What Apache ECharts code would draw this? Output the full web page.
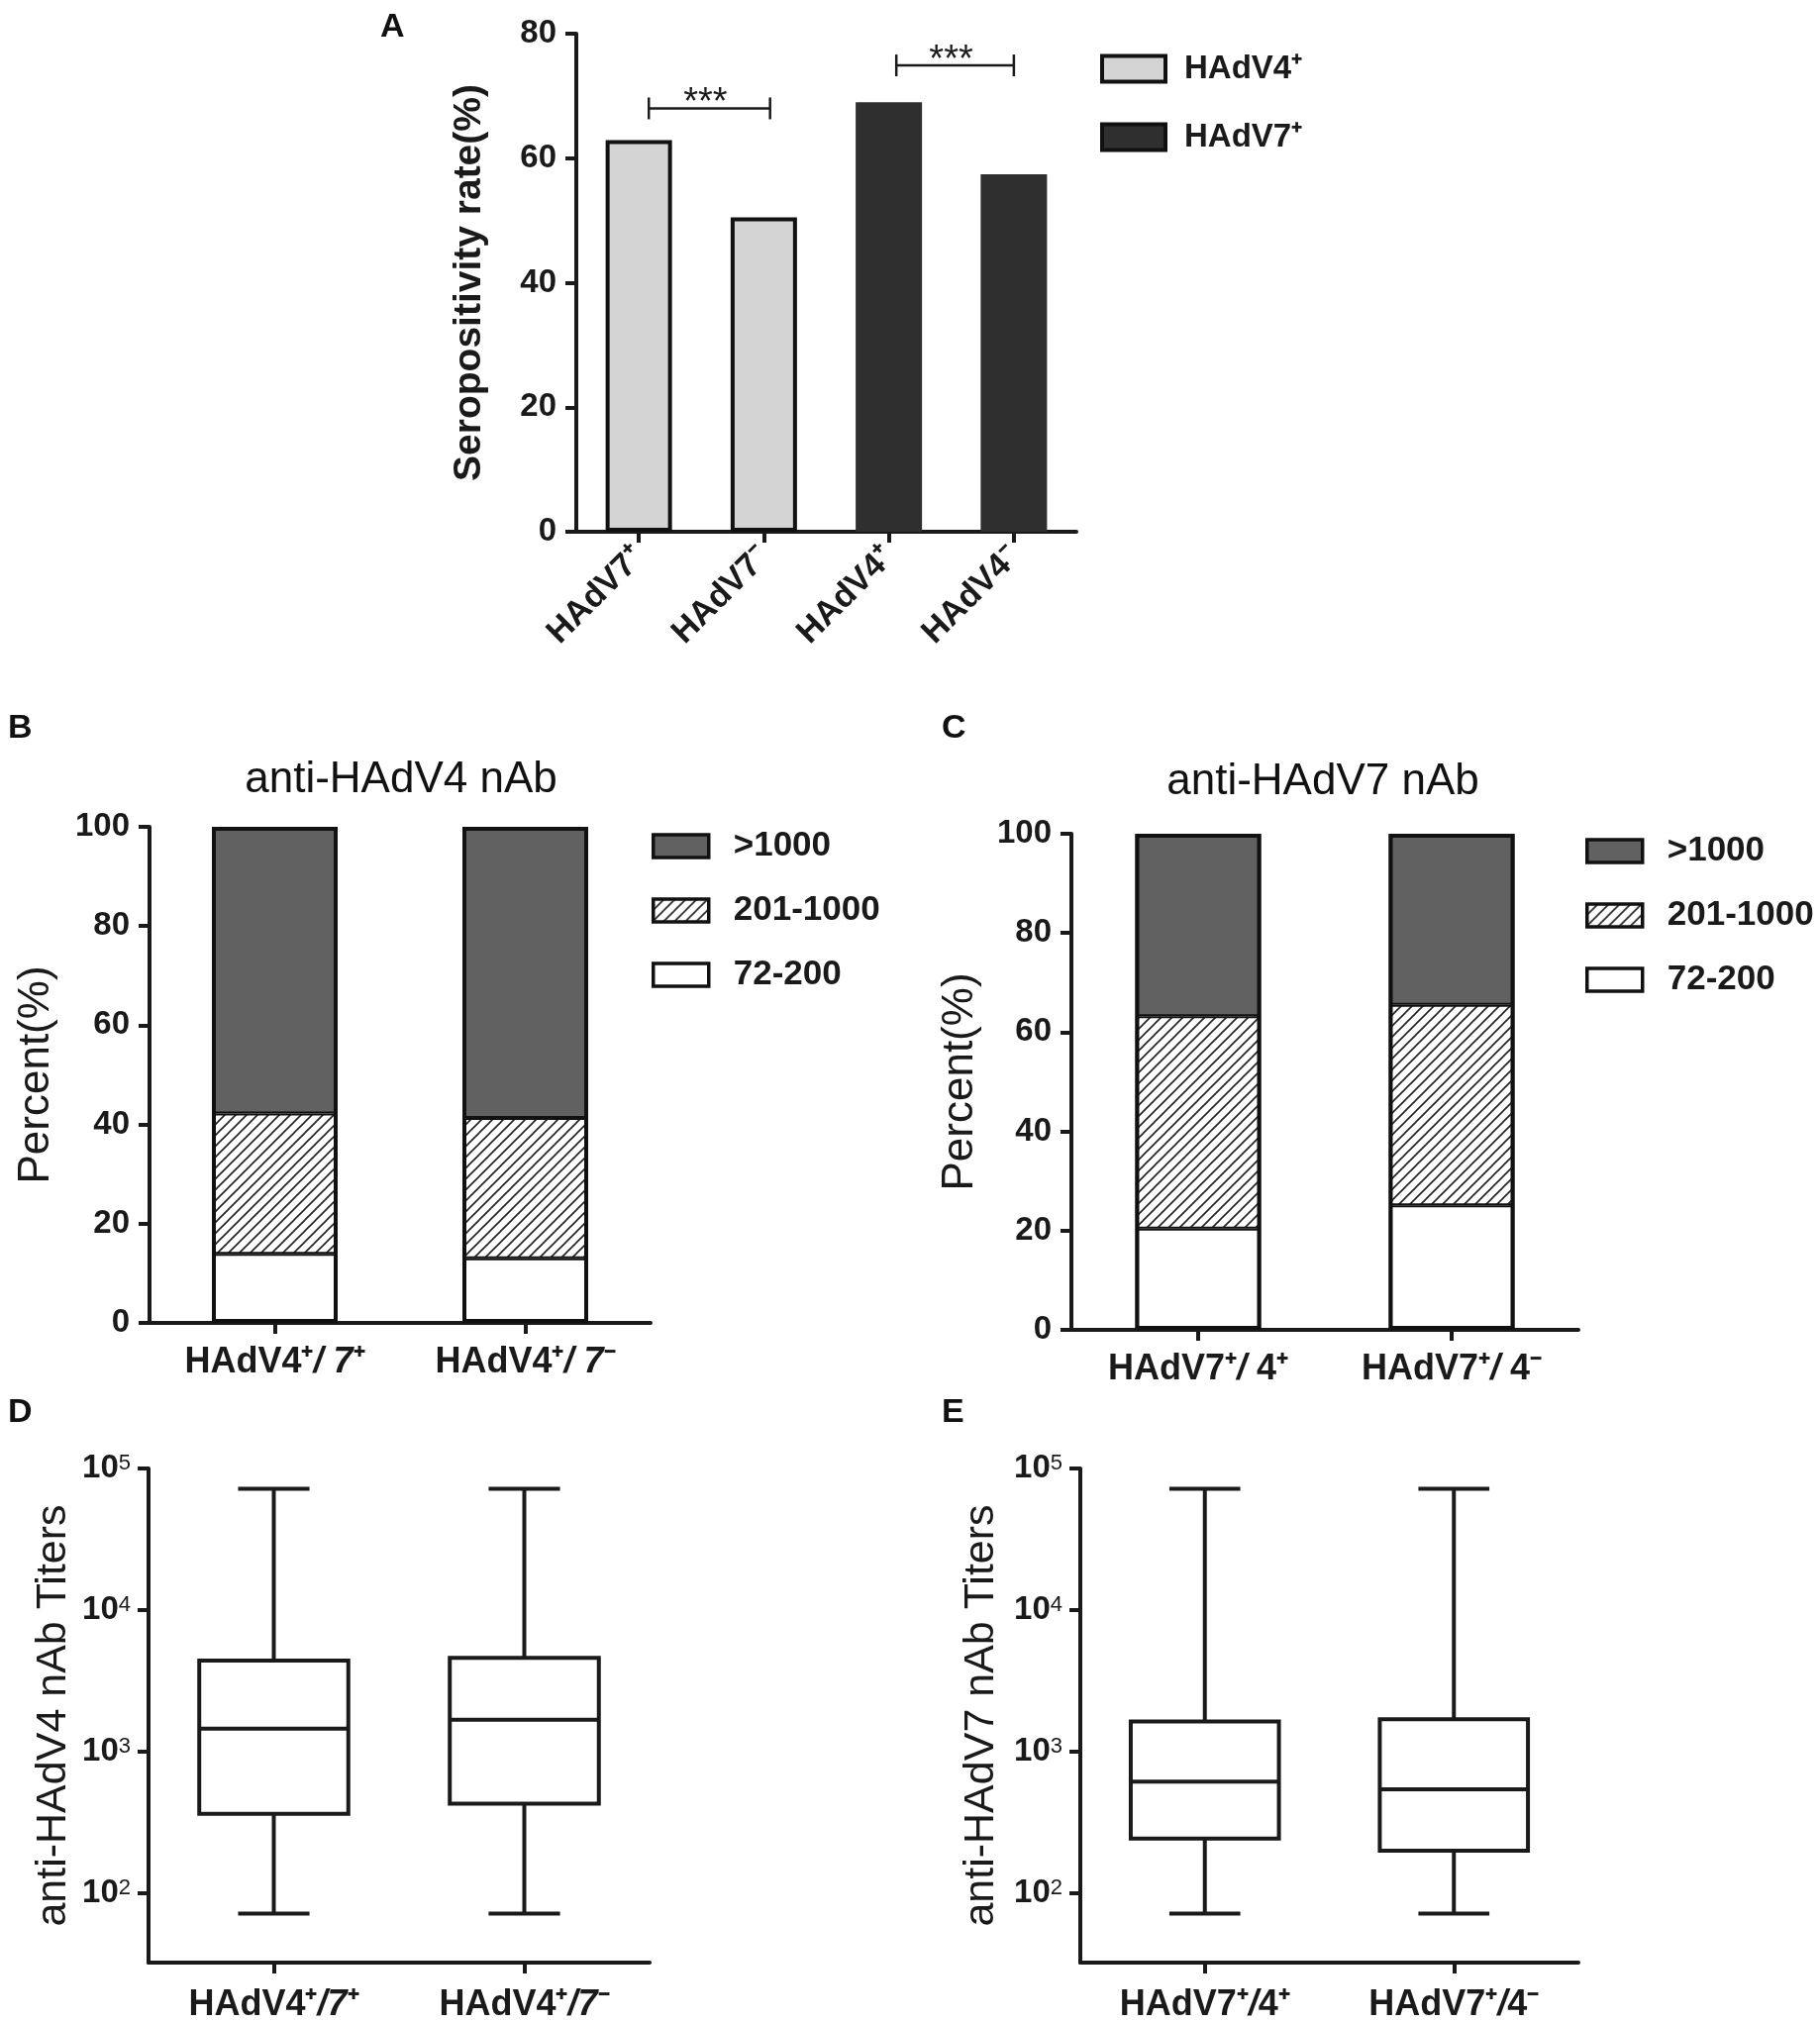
<!DOCTYPE html>
<html>
<head>
<meta charset="utf-8">
<script src="https://cdn.jsdelivr.net/npm/echarts@6/dist/echarts.min.js"></script>
<style>
html, body { margin: 0; background: #fff; }
#main { width: 1838px; height: 2043px; }
</style>
</head>
<body>
<div id="main"></div>
<script>
var FONT = '"Liberation Sans", Arial, sans-serif';

// A: seropositivity rate (%)
var catsA = ['HAdV7⁺', 'HAdV7⁻', 'HAdV4⁺', 'HAdV4⁻'];
var rateV4 = [62.9, 50.5, '-', '-'];
var rateV7 = ['-', '-', 69.0, 57.4];
// significance brackets: [category, y, start offset, end offset] (offsets in band units)
var bracketsA = [[0, 68.0, 0.08, 1.05], [2, 74.9, 0.06, 1.0]];

// B / C: titer distribution (%)
var catsB = ['HAdV4⁺{it|/ 7}⁺', 'HAdV4⁺{it|/ 7}⁻'];
var lowB = [13.9, 13.0];
var midB = [28.3, 28.3];
var highB = [57.8, 58.7];
var catsC = ['HAdV7⁺{it|/} 4⁺', 'HAdV7⁺{it|/} 4⁻'];
var lowC = [20.4, 25.1];
var midC = [42.8, 40.4];
var highC = [36.8, 34.5];

// D / E: nAb titers, [min, Q1, median, Q3, max]
var catsD = ['HAdV4⁺{it|/7}⁺', 'HAdV4⁺{it|/7}⁻'];
var boxD = [[72, 364, 1455, 4400, 72000], [72, 430, 1683, 4600, 72000]];
var catsE = ['HAdV7⁺{it|/}4⁺', 'HAdV7⁺{it|/}4⁻'];
var boxE = [[72, 243, 615, 1633, 72000], [72, 200, 543, 1694, 72000]];
var logTicks = [100, 1000, 10000, 100000];

function hatch() {
	var s = 11;
	var c = document.createElement('canvas');
	c.width = s; c.height = s;
	var g = c.getContext('2d');
	g.fillStyle = '#fff';
	g.fillRect(0, 0, s, s);
	g.strokeStyle = '#222';
	g.lineWidth = 1.6;
	g.beginPath();
	g.moveTo(-1, s + 1); g.lineTo(s + 1, -1);
	g.moveTo(-s / 2 - 1, s / 2 + 1); g.lineTo(s / 2 + 1, -s / 2 - 1);
	g.moveTo(s / 2 - 1, s * 1.5 + 1); g.lineTo(s * 1.5 + 1, s / 2 - 1);
	g.stroke();
	return c;
}
var hatchFill = { image: hatch(), repeat: 'repeat' };

var INK = '#1a1a1a';
var axisLine = { show: true, lineStyle: { color: INK, width: 4 } };
var axisTick = { show: true, length: 11, lineStyle: { color: INK, width: 4 } };
var richIt = { it: { fontStyle: 'italic', fontWeight: 'bold', fontSize: 36, fontFamily: FONT } };

function catAxis(idx, data, extra) {
	var ax = {
		type: 'category', gridIndex: idx, data: data,
		axisLine: axisLine,
		axisTick: { show: true, alignWithLabel: true, length: 11, lineStyle: { color: INK, width: 4 } },
		axisLabel: { interval: 0, margin: 20, color: INK, fontSize: 36, fontWeight: 'bold', fontFamily: FONT, rich: richIt }
	};
	for (var k in extra) ax.axisLabel[k] = extra[k];
	return ax;
}

function valAxis(idx, max, name, nameGap, nameStyle) {
	return {
		type: 'value', gridIndex: idx, min: 0, max: max, interval: 20,
		splitLine: { show: false },
		axisLine: axisLine, axisTick: axisTick,
		axisLabel: { margin: 20, color: INK, fontSize: 33, fontWeight: 'bold', fontFamily: FONT },
		name: name, nameLocation: 'middle', nameGap: nameGap, nameRotate: 90,
		nameTextStyle: nameStyle
	};
}

function logAxis(idx, name, nameGap) {
	return {
		type: 'log', gridIndex: idx, logBase: 10, min: 32.4, max: 100000,
		splitLine: { show: false },
		axisLine: axisLine,
		axisTick: { show: true, length: 11, customValues: logTicks, lineStyle: { color: INK, width: 4 } },
		axisLabel: {
			margin: 18, customValues: logTicks, color: INK, fontSize: 33, fontWeight: 'bold', fontFamily: FONT,
			rich: { s: { fontSize: 22, fontWeight: 'normal', fontFamily: FONT, color: INK, verticalAlign: 'top', lineHeight: 20 } },
			formatter: function (v) {
				var p = Math.round(Math.log(v) / Math.LN10);
				if (Math.abs(Math.pow(10, p) - v) > 1e-6 * v) return '';
				return '10{s|' + p + '}';
			}
		},
		name: name, nameLocation: 'middle', nameGap: nameGap, nameRotate: 90,
		nameTextStyle: { color: INK, fontSize: 43, fontFamily: FONT }
	};
}

function sum3(a, b, c) {
	return a.map(function (v, i) { return v + b[i] + c[i]; });
}

function stackSeries(idx, stack, low, mid, high) {
	var w = 127;
	return [
		{ name: '72-200', type: 'bar', xAxisIndex: idx, yAxisIndex: idx, stack: stack, barWidth: w, barGap: '-100%', data: low,
			itemStyle: { color: '#fff', borderColor: '#111', borderWidth: 2 } },
		{ name: '201-1000', type: 'bar', xAxisIndex: idx, yAxisIndex: idx, stack: stack, barWidth: w, barGap: '-100%', data: mid,
			itemStyle: { color: hatchFill, borderColor: '#111', borderWidth: 2 } },
		{ name: '>1000', type: 'bar', xAxisIndex: idx, yAxisIndex: idx, stack: stack, barWidth: w, barGap: '-100%', data: high,
			itemStyle: { color: '#616161', borderColor: '#111', borderWidth: 2 } },
		// outer frame of each stacked column
		{ type: 'bar', xAxisIndex: idx, yAxisIndex: idx, barWidth: w, barGap: '-100%', data: sum3(low, mid, high),
			itemStyle: { color: 'rgba(0,0,0,0)', borderColor: '#111', borderWidth: 4 }, silent: true, z: 3 }
	];
}

function renderBox(params, api) {
	var cx = api.coord([api.value(0), api.value(3)]);
	var band = api.size([1, 0])[0];
	var bw = band * 0.595, cw = band * 0.285;
	var x = cx[0];
	var y = function (i) { return api.coord([api.value(0), api.value(i)])[1]; };
	var yMin = y(1), yQ1 = y(2), yMed = y(3), yQ3 = y(4), yMax = y(5);
	var st = { stroke: INK, lineWidth: 4, fill: null };
	return {
		type: 'group',
		children: [
			{ type: 'line', shape: { x1: x, y1: yMax, x2: x, y2: yQ3 }, style: st },
			{ type: 'line', shape: { x1: x, y1: yQ1, x2: x, y2: yMin }, style: st },
			{ type: 'line', shape: { x1: x - cw / 2, y1: yMax, x2: x + cw / 2, y2: yMax }, style: st },
			{ type: 'line', shape: { x1: x - cw / 2, y1: yMin, x2: x + cw / 2, y2: yMin }, style: st },
			{ type: 'rect', shape: { x: x - bw / 2, y: yQ3, width: bw, height: yQ1 - yQ3 },
				style: { stroke: INK, lineWidth: 4, fill: '#fff' } },
			{ type: 'line', shape: { x1: x - bw / 2, y1: yMed, x2: x + bw / 2, y2: yMed }, style: st }
		]
	};
}

function boxData(rows) {
	return rows.map(function (r, i) { return [i].concat(r); });
}

function renderBracket(params, api) {
	var c = api.coord([api.value(0), api.value(1)]);
	var band = api.size([1, 0])[0];
	var x0 = c[0] + api.value(2) * band;
	var x1 = c[0] + api.value(3) * band;
	var y = c[1];
	var st = { stroke: INK, lineWidth: 2.5 };
	return {
		type: 'group',
		children: [
			{ type: 'line', shape: { x1: x0, y1: y, x2: x1, y2: y }, style: st },
			{ type: 'line', shape: { x1: x0, y1: y - 11, x2: x0, y2: y + 11 }, style: st },
			{ type: 'line', shape: { x1: x1, y1: y - 11, x2: x1, y2: y + 11 }, style: st },
			{ type: 'text', x: (x0 + x1) / 2 - 4, y: y - 5,
				style: { text: '***', align: 'center', verticalAlign: 'middle', fontSize: 38, fontFamily: FONT, fill: INK } }
		]
	};
}

function letter(t, x, y) {
	return { type: 'text', x: x, y: y, style: { text: t, fontSize: 34, fontWeight: 'bold', fontFamily: FONT, fill: '#111', verticalAlign: 'top' } };
}
function title(t, x, y) {
	return { type: 'text', x: x, y: y, style: { text: t, fontSize: 44, fontFamily: FONT, fill: '#111', align: 'center', verticalAlign: 'middle' } };
}

function legendText(size, pad) {
	return { color: INK, fontSize: size, fontWeight: 'bold', fontFamily: FONT, lineHeight: 28, padding: [0, 0, 0, pad] };
}

var dom = document.getElementById('main');
var myChart = echarts.init(dom, null, { renderer: 'canvas' });
var option = {
	backgroundColor: '#fff',
	animation: false,
	grid: [
		{ left: 582, top: 34, width: 505, height: 503 },
		{ left: 151, top: 835, width: 506, height: 501 },
		{ left: 1082, top: 842, width: 512, height: 501 },
		{ left: 150, top: 1483, width: 506, height: 505 },
		{ left: 1091, top: 1483, width: 503, height: 505 }
	],
	xAxis: [
		catAxis(0, catsA, { rotate: 45, margin: 21, fontSize: 34 }),
		catAxis(1, catsB, { margin: 22 }),
		catAxis(2, catsC, { margin: 22 }),
		catAxis(3, catsD, { margin: 25 }),
		catAxis(4, catsE, { margin: 25 })
	],
	yAxis: [
		valAxis(0, 80, 'Seropositivity rate(%)', 88, { color: INK, fontSize: 39, fontWeight: 'bold', fontFamily: FONT }),
		valAxis(1, 100, 'Percent(%)', 92, { color: INK, fontSize: 44, fontFamily: FONT }),
		valAxis(2, 100, 'Percent(%)', 90, { color: INK, fontSize: 44, fontFamily: FONT }),
		logAxis(3, 'anti-HAdV4 nAb Titers', 74),
		logAxis(4, 'anti-HAdV7 nAb Titers', 78)
	],
	legend: [
		{ left: 1111, top: 53, orient: 'vertical', padding: 0, itemWidth: 64, itemHeight: 26, itemGap: 36, icon: 'rect',
			data: ['HAdV4⁺', 'HAdV7⁺'], textStyle: legendText(33, 14),
			itemStyle: { borderColor: '#111', borderWidth: 4 } },
		{ left: 658, top: 837, orient: 'vertical', padding: 0, itemWidth: 56, itemHeight: 23, itemGap: 30, icon: 'rect',
			data: ['>1000', '201-1000', '72-200'], textStyle: legendText(35, 20),
			itemStyle: { borderColor: '#111', borderWidth: 3.5 } },
		{ left: 1601, top: 842, orient: 'vertical', padding: 0, itemWidth: 56, itemHeight: 23, itemGap: 30, icon: 'rect',
			data: ['>1000', '201-1000', '72-200'], textStyle: legendText(35, 20),
			itemStyle: { borderColor: '#111', borderWidth: 3.5 } }
	],
	graphic: [
		letter('A', 384, 11),
		letter('B', 8, 719),
		letter('C', 951, 719),
		letter('D', 8, 1410),
		letter('E', 951, 1410),
		title('anti-HAdV4 nAb', 405, 788),
		title('anti-HAdV7 nAb', 1336, 790)
	],
	series: [
		{ name: 'HAdV4⁺', type: 'bar', xAxisIndex: 0, yAxisIndex: 0, stack: 'a', barWidth: 67, data: rateV4,
			itemStyle: { color: '#d4d4d4', borderColor: '#111', borderWidth: 4 } },
		{ name: 'HAdV7⁺', type: 'bar', xAxisIndex: 0, yAxisIndex: 0, stack: 'a', barWidth: 67, data: rateV7,
			itemStyle: { color: '#2f2f2f', borderColor: '#2f2f2f', borderWidth: 4 } },
		{ type: 'custom', xAxisIndex: 0, yAxisIndex: 0, data: bracketsA, encode: { x: 0, y: 1 },
			renderItem: renderBracket, silent: true, z: 5 }
	].concat(stackSeries(1, 'b', lowB, midB, highB))
	 .concat(stackSeries(2, 'c', lowC, midC, highC))
	 .concat([
		{ type: 'custom', xAxisIndex: 3, yAxisIndex: 3, data: boxData(boxD), encode: { x: 0, y: [1, 2, 3, 4, 5] }, renderItem: renderBox },
		{ type: 'custom', xAxisIndex: 4, yAxisIndex: 4, data: boxData(boxE), encode: { x: 0, y: [1, 2, 3, 4, 5] }, renderItem: renderBox }
	])
};
if (option && typeof option === 'object') {
	myChart.setOption(option, true);
}
</script>
</body>
</html>
